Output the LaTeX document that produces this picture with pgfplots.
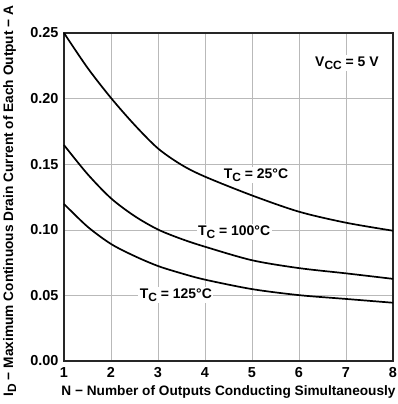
\documentclass[border=0pt]{standalone}
\usepackage{pgfplots}
\pgfplotsset{compat=1.18}
\usepackage{fontspec}
\setmainfont{Liberation Sans}
\newcommand\sub[1]{\raisebox{-0.4ex}{\fontsize{12}{12}\selectfont #1}}
\begin{document}
\begin{tikzpicture}
\begin{axis}[
  scale only axis, width=329bp, height=328bp,
  xmin=1, xmax=8, ymin=0, ymax=0.25,
  xtick={1,...,8}, ytick={0,0.05,0.10,0.15,0.20,0.25},
  grid=major, major grid style={gray!55, line width=0.6bp},
  major tick length=0pt,
  axis line style={black!85, line width=1.1bp},
  font=\fontsize{14}{16}\selectfont\bfseries,
  /pgf/number format/assume math mode=true,
  ticklabel style={font=\fontsize{14.5}{16}\selectfont\bfseries},
  yticklabel style={/pgf/number format/fixed, /pgf/number format/fixed zerofill, /pgf/number format/precision=2, xshift=-2bp},
  xticklabel style={yshift=-3bp},
  xlabel={N − Number of Outputs Conducting Simultaneously},
  ylabel={I\sub{D} − Maximum Continuous Drain Current of Each Output − A},
  xlabel style={at={(axis description cs:0.5,-0.095)}, anchor=center, font=\fontsize{13.7}{16}\selectfont\bfseries},
  ylabel style={at={(axis description cs:-0.165,0.488)}, anchor=center, font=\fontsize{13.75}{16}\selectfont\bfseries},
  clip=false,
]
\addplot[black, line width=1.7bp, smooth, tension=0.5] coordinates {
(1,0.250) (1.5,0.2235) (2,0.2005) (2.5,0.180) (3,0.1620) (3.5,0.1495) (4,0.1405) (5,0.1262) (6,0.1138) (7,0.1054) (8,0.0993)};
\addplot[black, line width=1.7bp, smooth, tension=0.5] coordinates {
(1,0.1646) (1.5,0.1425) (2,0.124) (2.5,0.1105) (3,0.1002) (3.5,0.0930) (4,0.0871) (5,0.0768) (6,0.0708) (7,0.0668) (8,0.0626)};
\addplot[black, line width=1.7bp, smooth, tension=0.5] coordinates {
(1,0.1197) (1.5,0.1024) (2,0.0892) (2.5,0.0800) (3,0.0724) (3.5,0.0668) (4,0.0620) (5,0.0548) (6,0.0502) (7,0.0473) (8,0.0444)};
\node[fill=white, inner sep=1.5bp] at (axis cs:5.085,0.1418) {T\sub{C} = 25°C};
\node[fill=white, inner sep=1.5bp] at (axis cs:4.62,0.0983) {T\sub{C} = 100°C};
\node[fill=white, inner sep=1.5bp] at (axis cs:3.38,0.0503) {T\sub{C} = 125°C};
\node[fill=white, inner sep=1.5bp] at (axis cs:7.02,0.227) {V\sub{CC} = 5 V};
\end{axis}
\pgfresetboundingbox
\path ([shift={(-64bp,-43bp)}]current axis.south west) rectangle ([shift={(5bp,33bp)}]current axis.north east);
\end{tikzpicture}
\end{document}
